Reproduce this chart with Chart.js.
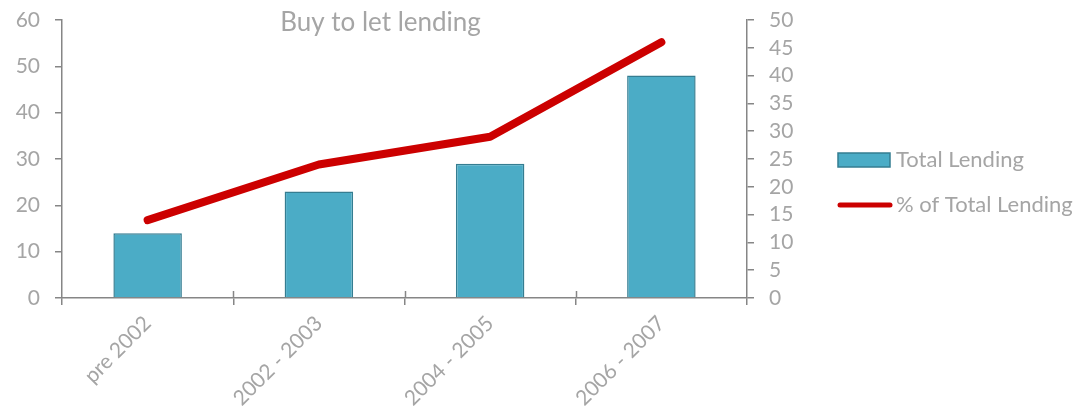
<!DOCTYPE html>
<html>
<head>
<meta charset="utf-8">
<script src="https://cdn.jsdelivr.net/npm/chart.js@4/dist/chart.umd.min.js"></script>
<style>
  html, body { margin: 0; padding: 0; background: #fff; }
  #wrap { width: 1087px; height: 420px; }
</style>
</head>
<body>
<div id="wrap"><canvas id="lendingChart" width="1087" height="420"></canvas></div>
<script>
const periods = ['pre 2002', '2002 - 2003', '2004 - 2005', '2006 - 2007'];
const totalLending = [14, 23, 29, 48];
const pctOfTotal = [14, 24, 29, 46];
const leftTicks = [0, 10, 20, 30, 40, 50, 60];
const rightTicks = [0, 5, 10, 15, 20, 25, 30, 35, 40, 45, 50];

const textGrey = '#a5a5a5';
const axisGrey = '#868686';
const fontFamily = 'Lato, "Open Sans", sans-serif';

// title sits inside the top of the plot, slightly left of centre
const titlePlugin = {
    id: 'insetTitle',
    afterDraw(chart) {
        const c = chart.ctx;
        const area = chart.chartArea;
        c.save();
        c.font = '26px ' + fontFamily;
        c.fillStyle = textGrey;
        c.textAlign = 'center';
        c.textBaseline = 'middle';
        c.fillText('Buy to let lending', (area.left + area.right) / 2 - 24, area.top + 3);
        c.restore();
    }
};

// category ticks cross the axis: add the half that points into the plot
const crossTicks = {
    id: 'crossTicks',
    afterDatasetsDraw(chart) {
        const xs = chart.scales.x;
        const n = chart.data.labels.length;
        const c = chart.ctx;
        c.save();
        c.strokeStyle = axisGrey;
        c.lineWidth = 1.5;
        c.beginPath();
        for (let i = 1; i < n; i++) {
            const px = Math.round(xs.left + i * xs.width / n) + 0.5;
            c.moveTo(px, xs.top);
            c.lineTo(px, xs.top - 7);
        }
        c.stroke();
        c.restore();
    }
};

// legend drawn to the right of the secondary axis
const sideLegend = {
    id: 'sideLegend',
    afterDraw(chart) {
        const c = chart.ctx;
        const x = chart.chartArea.right + 91;
        const rows = [chart.chartArea.top + 140, chart.chartArea.top + 185];
        const sets = chart.data.datasets;
        c.save();
        c.font = '22px ' + fontFamily;
        c.textBaseline = 'middle';
        c.textAlign = 'left';

        // bar swatch
        c.fillStyle = sets[0].backgroundColor;
        c.strokeStyle = sets[0].borderColor;
        c.lineWidth = 1.5;
        c.fillRect(x, rows[0] - 7, 52, 14);
        c.strokeRect(x, rows[0] - 7, 52, 14);
        c.fillStyle = textGrey;
        c.fillText(sets[0].label, x + 58, rows[0]);

        // line swatch
        c.strokeStyle = sets[1].borderColor;
        c.lineWidth = 5;
        c.lineCap = 'round';
        c.beginPath();
        c.moveTo(x + 2, rows[1]);
        c.lineTo(x + 52, rows[1]);
        c.stroke();
        c.fillStyle = textGrey;
        c.fillText(sets[1].label, x + 58, rows[1]);
        c.restore();
    }
};

function fixWidth(w) {
    return function (scale) {
        scale.width = w;
        scale.paddingTop = 0;
        scale.paddingBottom = 0;
    };
}

const ctx = document.getElementById('lendingChart').getContext('2d');

new Chart(ctx, {
    type: 'bar',
    data: {
        labels: periods,
        datasets: [{
            type: 'bar',
            label: 'Total Lending',
            data: totalLending,
            backgroundColor: '#4bacc6',
            borderColor: '#357d91',
            borderWidth: 1.5,
            barPercentage: 0.4,
            categoryPercentage: 1,
            yAxisID: 'y',
            order: 1
        }, {
            type: 'line',
            label: '% of Total Lending',
            data: pctOfTotal,
            borderColor: '#cc0000',
            borderWidth: 8,
            borderCapStyle: 'round',
            borderJoinStyle: 'round',
            pointRadius: 0,
            fill: false,
            tension: 0,
            yAxisID: 'y1',
            order: 0
        }]
    },
    options: {
        responsive: false,
        animation: false,
        layout: {
            padding: { top: 20, right: 280, bottom: 0, left: 0 }
        },
        plugins: {
            legend: { display: false },
            title: { display: false },
            tooltip: { enabled: false }
        },
        scales: {
            x: {
                offset: true,
                grid: {
                    offset: true,
                    drawOnChartArea: false,
                    color: axisGrey,
                    lineWidth: 1.5,
                    tickLength: 7
                },
                border: { color: axisGrey, width: 1.5 },
                ticks: {
                    color: textGrey,
                    font: { family: fontFamily, size: 21 },
                    minRotation: 45,
                    maxRotation: 45,
                    autoSkip: false,
                    padding: 6
                },
                afterFit(scale) { scale.height = 122; }
            },
            y: {
                position: 'left',
                min: 0,
                max: 60,
                afterBuildTicks(scale) { scale.ticks = leftTicks.map(v => ({ value: v })); },
                grid: {
                    drawOnChartArea: false,
                    color: axisGrey,
                    lineWidth: 1.5,
                    tickLength: 7
                },
                border: { color: axisGrey, width: 1.5 },
                ticks: {
                    color: textGrey,
                    font: { family: fontFamily, size: 21 },
                    autoSkip: false,
                    padding: 15
                },
                afterFit: fixWidth(62)
            },
            y1: {
                position: 'right',
                min: 0,
                max: 50,
                afterBuildTicks(scale) { scale.ticks = rightTicks.map(v => ({ value: v })); },
                grid: {
                    drawOnChartArea: false,
                    color: axisGrey,
                    lineWidth: 1.5,
                    tickLength: 7
                },
                border: { color: axisGrey, width: 1.5 },
                ticks: {
                    color: textGrey,
                    font: { family: fontFamily, size: 21 },
                    autoSkip: false,
                    padding: 15
                },
                afterFit: fixWidth(60)
            }
        }
    },
    plugins: [titlePlugin, crossTicks, sideLegend]
});
</script>
</body>
</html>
